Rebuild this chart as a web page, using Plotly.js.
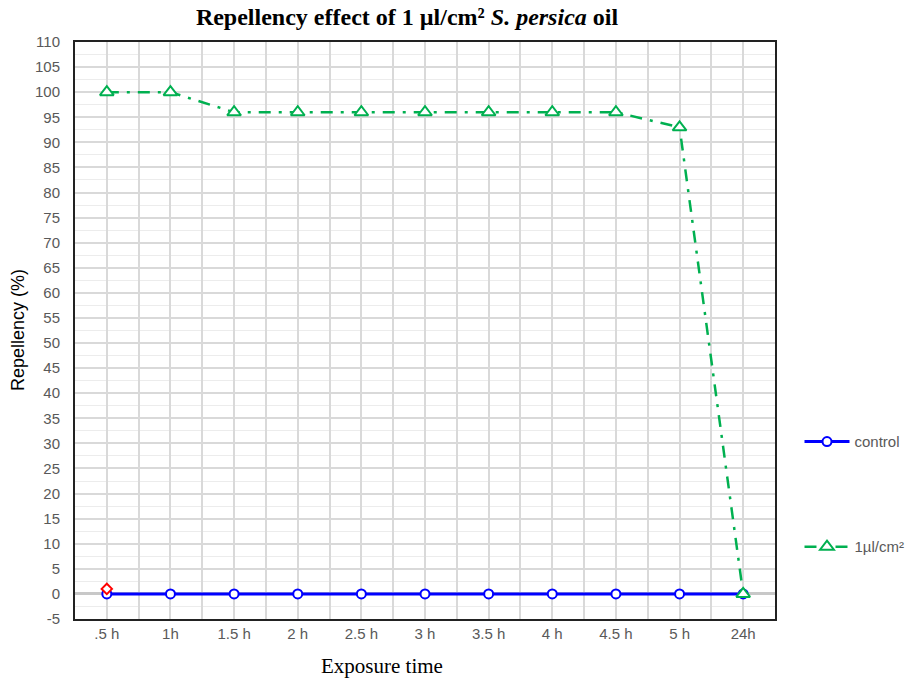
<!DOCTYPE html>
<html>
<head>
<meta charset="utf-8">
<script src="https://cdn.plot.ly/plotly-3.0.1.min.js"></script>
<style>html,body{margin:0;padding:0;background:#fff;}#chart{width:919px;height:681px;}</style>
</head>
<body>
<div id="chart"></div>
<script>
const categories = [".5 h", "1h", "1.5 h", "2 h", "2.5 h", "3 h", "3.5 h", "4 h", "4.5 h", "5 h", "24h"];
const controlValues = [0, 0, 0, 0, 0, 0, 0, 0, 0, 0, 0];
const treatmentValues = [100, 100, 96, 96, 96, 96, 96, 96, 96, 93, 0];
const outlierCategory = [".5 h"];
const outlierValue = [1];
const yTickVals = [-5,0,5,10,15,20,25,30,35,40,45,50,55,60,65,70,75,80,85,90,95,100,105,110];
const yTickText = ["-5","0","5","10","15","20","25","30","35","40","45","50","55","60","65","70","75","80","85","90","95","100","105","110"];

const tickFont = {family: "Liberation Sans, Arial, sans-serif", size: 15, color: "#595959"};

const traces = [
  {
    x: categories, y: controlValues, name: "control", type: "scatter", mode: "lines+markers",
    line: {color: "#0000ff", width: 3},
    marker: {symbol: "circle", size: 9, color: "#ffffff", line: {color: "#0000ff", width: 2}},
    legend: "legend"
  },
  {
    x: categories, y: treatmentValues, name: "1\u00b5l/cm\u00b2", type: "scatter", mode: "lines+markers",
    line: {color: "#00b050", width: 2.5, dash: "12px,8px,3px,8px"},
    marker: {symbol: "triangle-up", size: 12, color: "#ffffff", line: {color: "#00b050", width: 2}},
    legend: "legend2"
  },
  {
    x: outlierCategory, y: outlierValue, type: "scatter", mode: "markers", showlegend: false,
    marker: {symbol: "diamond", size: 8, color: "#ffffff", line: {color: "#ff0000", width: 2}},
    xaxis: "x2"
  }
];

const layout = {
  width: 919, height: 681,
  margin: {l: 75, r: 144, t: 42, b: 62, autoexpand: false},
  paper_bgcolor: "#ffffff", plot_bgcolor: "#ffffff",
  title: {
    text: "<b>Repellency effect of 1 \u00b5l/cm\u00b2 <i>S. persica</i> oil</b>",
    font: {family: "Liberation Serif, Times New Roman, serif", size: 24, color: "#000000"},
    x: 407/919, xref: "container", xanchor: "center",
    y: 1 - 17/681, yref: "container", yanchor: "middle"
  },
  xaxis: {
    type: "category", categoryorder: "array", categoryarray: categories,
    range: [-0.5, 10.5], tickson: "boundaries",
    showgrid: true, gridcolor: "#d9d9d9", gridwidth: 2,
    showline: true, linecolor: "#222222", linewidth: 2, mirror: true,
    ticks: "outside", ticklen: 10, tickcolor: "rgba(0,0,0,0)",
    tickfont: tickFont, zeroline: false, fixedrange: true
  },
  xaxis2: {
    type: "category", categoryorder: "array", categoryarray: categories,
    range: [-0.5, 10.5], overlaying: "x", anchor: "y",
    showgrid: true, gridcolor: "#d9d9d9", gridwidth: 2,
    showticklabels: false, showline: false, zeroline: false, fixedrange: true
  },
  yaxis: {
    range: [-5, 110], tickmode: "array", tickvals: yTickVals, ticktext: yTickText,
    showgrid: true, gridcolor: "#d9d9d9", gridwidth: 2,
    minor: {tickmode: "linear", tick0: 0, dtick: 2.5, showgrid: true, gridcolor: "#ececec", gridwidth: 1},
    zeroline: true, zerolinecolor: "#c8c8c8", zerolinewidth: 3,
    showline: true, linecolor: "#222222", linewidth: 2, mirror: true,
    ticks: "outside", ticklen: 10, tickcolor: "rgba(0,0,0,0)",
    tickfont: tickFont, fixedrange: true
  },
  legend: {
    x: 1.035, xanchor: "left", y: 0.307, yanchor: "middle",
    font: {family: "Liberation Sans, Arial, sans-serif", size: 15, color: "#595959"},
    bgcolor: "rgba(0,0,0,0)", itemwidth: 45
  },
  legend2: {
    x: 1.035, xanchor: "left", y: 0.125, yanchor: "middle",
    font: {family: "Liberation Sans, Arial, sans-serif", size: 15, color: "#595959"},
    bgcolor: "rgba(0,0,0,0)", itemwidth: 45
  },
  annotations: [
    {
      text: "Exposure time", xref: "paper", yref: "paper",
      x: (382 - 75) / 700, y: -(666 - 619) / 577, xanchor: "center", yanchor: "middle",
      showarrow: false, font: {family: "Liberation Serif, Times New Roman, serif", size: 21, color: "#000000"}
    },
    {
      text: "Repellency (%)", xref: "paper", yref: "paper", textangle: -90,
      x: (18 - 75) / 700, y: (619 - 330) / 577, xanchor: "center", yanchor: "middle",
      showarrow: false, font: {family: "Liberation Sans, Arial, sans-serif", size: 18, color: "#000000"}
    }
  ],
  showlegend: true
};

Plotly.newPlot("chart", traces, layout, {displayModeBar: false, staticPlot: true});
</script>
</body>
</html>
